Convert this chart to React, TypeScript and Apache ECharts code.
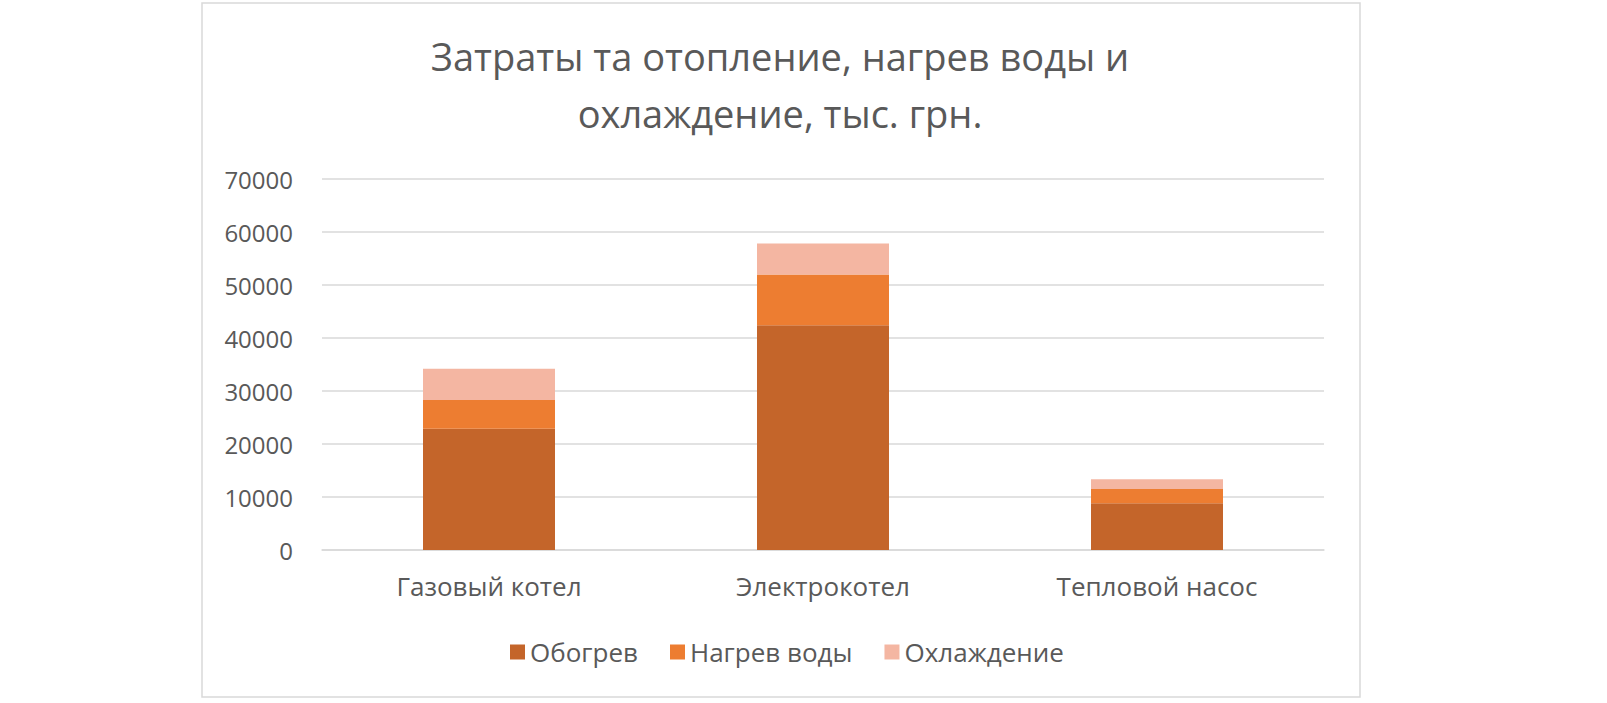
import React, { useRef, useEffect } from 'react';
import * as echarts from 'echarts';

// categories and series
const categories = ['Газовый котел', 'Электрокотел', 'Тепловой насос'];
const heating = [22900, 42400, 8800];
const waterHeating = [5400, 9600, 2700];
const cooling = [5900, 5850, 1850];

const seriesNames = ['Обогрев', 'Нагрев воды', 'Охлаждение'];
const seriesColors = ['#C4652A', '#ED7D31', '#F4B6A2'];

const titleText = 'Затраты та отопление, нагрев воды и\nохлаждение, тыс. грн.';

const FONT = '"Open Sans", sans-serif';
const TEXT = '#595959';

const App: React.FC = () => {
    const chartRef = useRef<HTMLDivElement>(null);

    useEffect(() => {
        if (!chartRef.current) return;
        const chart = echarts.init(chartRef.current, undefined, { renderer: 'svg' });

        const values = [heating, waterHeating, cooling];

        chart.setOption({
            animation: false,
            backgroundColor: '#ffffff',
            textStyle: { fontFamily: FONT },
            title: {
                text: titleText,
                left: 780,
                top: 27,
                padding: 0,
                textAlign: 'center',
                textStyle: {
                    fontFamily: FONT,
                    fontSize: 38,
                    lineHeight: 57,
                    fontWeight: 'normal',
                    color: TEXT
                }
            },
            graphic: [
                {
                    type: 'rect',
                    shape: { x: 202, y: 3, width: 1158, height: 694 },
                    style: { fill: 'none', stroke: '#D9D9D9', lineWidth: 1.5 },
                    silent: true
                }
            ],
            legend: {
                left: 510,
                top: 639,
                padding: 0,
                itemWidth: 15,
                itemHeight: 15,
                itemGap: 32,
                icon: 'rect',
                data: seriesNames,
                textStyle: { fontFamily: FONT, fontSize: 26, color: TEXT }
            },
            grid: {
                left: 322,
                right: 283,
                top: 179,
                bottom: 153,
                containLabel: false
            },
            xAxis: {
                type: 'category',
                data: categories,
                axisLine: { lineStyle: { color: '#D9D9D9', width: 1.5 } },
                axisTick: { show: false },
                axisLabel: {
                    margin: 23,
                    fontFamily: FONT,
                    fontSize: 26,
                    color: TEXT
                }
            },
            yAxis: {
                type: 'value',
                min: 0,
                max: 70000,
                interval: 10000,
                axisLine: { show: false },
                axisTick: { show: false },
                splitLine: { lineStyle: { color: '#D9D9D9', width: 1.5 } },
                axisLabel: {
                    margin: 29,
                    fontFamily: FONT,
                    fontSize: 24,
                    color: TEXT,
                    formatter: (v: number) => String(v)
                }
            },
            series: seriesNames.map((name, i) => ({
                name,
                type: 'bar',
                stack: 'total',
                barWidth: 132,
                data: values[i],
                itemStyle: { color: seriesColors[i] }
            }))
        });

        return () => {
            chart.dispose();
        };
    }, []);

    return (
        <div
            ref={chartRef}
            style={{ position: 'absolute', left: 0, top: 0, width: '1607px', height: '703px' }}
        />
    );
};

export default App;
